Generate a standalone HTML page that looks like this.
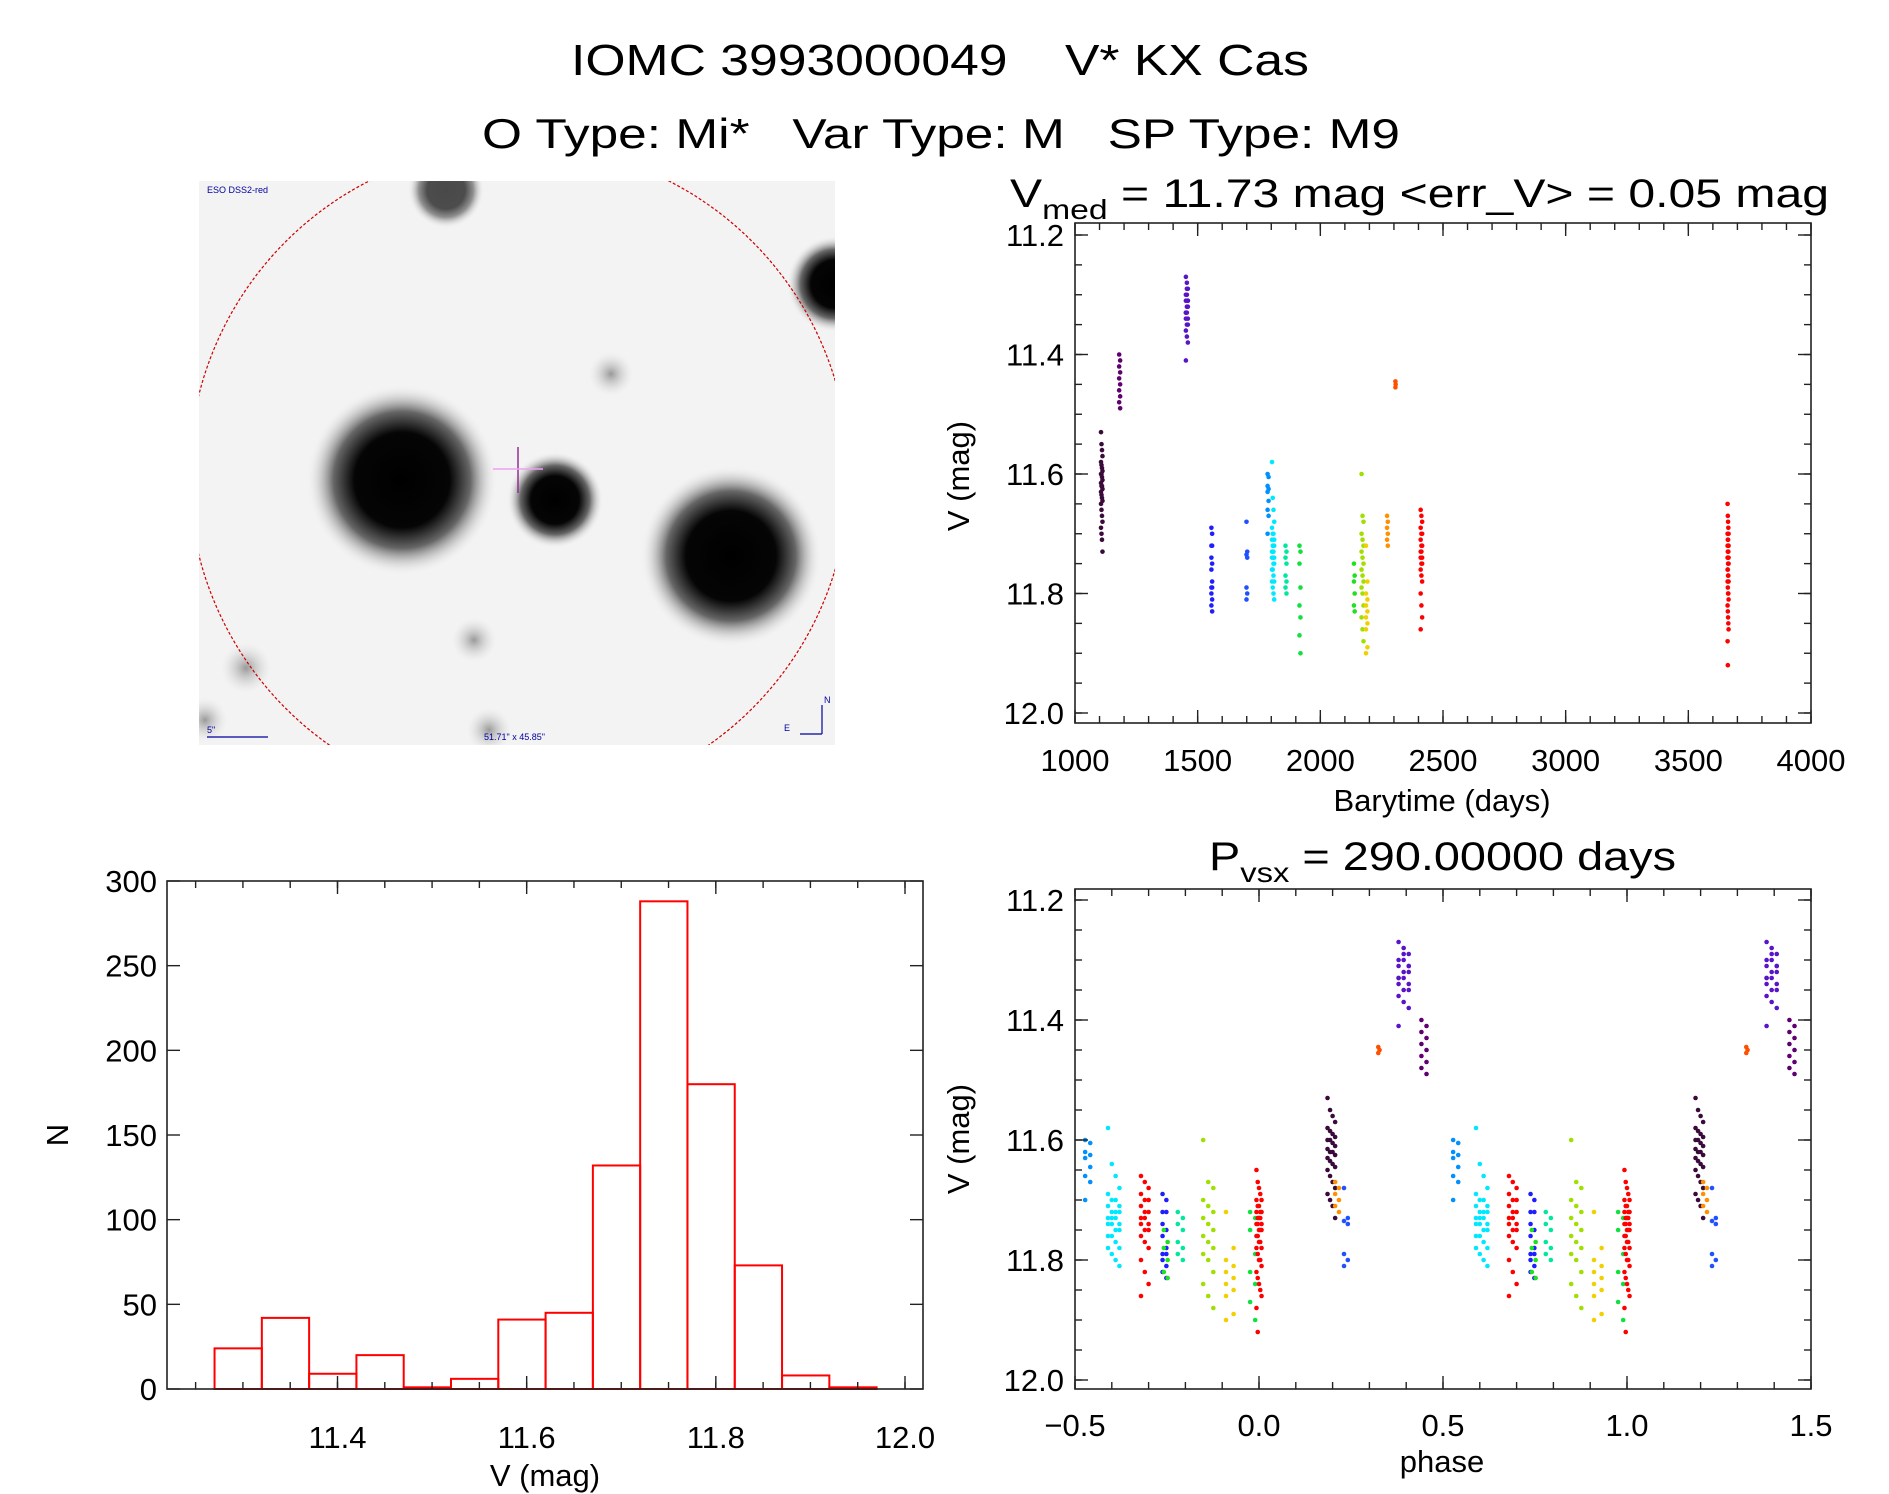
<!DOCTYPE html>
<html><head><meta charset="utf-8">
<style>
html,body{margin:0;padding:0;background:#fff;}
svg{display:block;font-family:"Liberation Sans",sans-serif;}
.pre{white-space:pre;}
</style></head>
<body>
<svg id="root" width="1889" height="1494" viewBox="0 0 1889 1494" xmlns="http://www.w3.org/2000/svg">
<defs>
<radialGradient id="blob" cx="50%" cy="50%" r="50%">
<stop offset="0" stop-color="#000"/><stop offset="0.5" stop-color="#050505"/><stop offset="0.72" stop-color="#666"/><stop offset="1" stop-color="#eee" stop-opacity="0"/>
</radialGradient>
<radialGradient id="faint" cx="50%" cy="50%" r="50%">
<stop offset="0" stop-color="#999"/><stop offset="1" stop-color="#ddd" stop-opacity="0"/>
</radialGradient>
<clipPath id="imgclip"><rect x="199" y="181" width="636" height="564"/></clipPath>
</defs>
<text class="pre" x="940" y="75" text-anchor="middle" font-size="44" textLength="738" lengthAdjust="spacingAndGlyphs">IOMC 3993000049    V* KX Cas</text>
<text class="pre" x="941" y="148" text-anchor="middle" font-size="42" textLength="918" lengthAdjust="spacingAndGlyphs">O Type: Mi*   Var Type: M   SP Type: M9</text>

<g clip-path="url(#imgclip)">
<rect x="199" y="181" width="636" height="564" fill="#f3f3f3"/>
<circle cx="402" cy="480" r="95" fill="url(#blob)"/>
<circle cx="555" cy="500" r="48" fill="url(#blob)"/>
<circle cx="731" cy="556" r="90" fill="url(#blob)"/>
<circle cx="446" cy="190" r="38" fill="url(#blob)" opacity="0.7"/>
<circle cx="835" cy="284" r="48" fill="url(#blob)"/>
<circle cx="611" cy="374" r="22" fill="url(#faint)"/>
<circle cx="474" cy="640" r="22" fill="url(#faint)"/>
<circle cx="246" cy="668" r="25" fill="url(#faint)"/>
<circle cx="489" cy="730" r="22" fill="url(#faint)"/>
<circle cx="205" cy="720" r="22" fill="url(#faint)"/>
<circle cx="519" cy="475" r="330" fill="none" stroke="#c00" stroke-width="1.2" stroke-dasharray="3,2"/>
<line x1="518" y1="447" x2="518" y2="493" stroke="#903090" stroke-width="1.5"/>
<line x1="493" y1="469" x2="543" y2="469" stroke="#f0a0f0" stroke-width="1.5"/>
<text x="207" y="193" font-size="9" fill="#0000a0">ESO DSS2-red</text>
<text x="207" y="733" font-size="9" fill="#0000a0">5"</text>
<line x1="207" y1="737" x2="268" y2="737" stroke="#0000a0" stroke-width="1.2"/>
<text x="484" y="740" font-size="9" fill="#0000a0">51.71" x 45.85"</text>
<line x1="822" y1="734" x2="822" y2="705" stroke="#0000a0" stroke-width="1.2"/>
<line x1="800" y1="734" x2="822" y2="734" stroke="#0000a0" stroke-width="1.2"/>
<text x="824" y="703" font-size="9" fill="#0000a0">N</text>
<text x="784" y="731" font-size="9" fill="#0000a0">E</text>
</g>

<g id="lc"></g>
<g id="ph"></g>
<g id="hist"></g>
</svg>
<script>
// ---------- data ----------
const period = 290.0;
const epoch = 3662;
const groupColors = ["#3a0a3a","#600070","#5a14c8","#1e1eff","#2050ff","#0090ff","#00e8ff","#00e8a0","#10e040","#20e020","#a0e000","#f0d000","#ff9000","#ff5000","#ff0000","#ff0000"];
const groupTimes = [
 [1106,1108,1110,1112],
 [1180,1184],
 [1452,1456,1460],
 [1556,1559],
 [1699,1702],
 [1785,1789],
 [1803,1806,1809,1812],
 [1858,1862],
 [1915,1919],
 [2137,2140],
 [2168,2172,2176],
 [2186,2192],
 [2272,2275],
 [2306,2307],
 [2409,2412,2415],
 [3660,3661,3662,3663,3664]
];
const groupMags = [
 [11.53,11.55,11.56,11.57,11.58,11.585,11.59,11.595,11.60,11.60,11.605,11.61,11.615,11.62,11.62,11.625,11.63,11.635,11.64,11.645,11.65,11.66,11.67,11.68,11.69,11.70,11.71,11.73],
 [11.40,11.41,11.42,11.43,11.44,11.45,11.46,11.47,11.48,11.49],
 [11.27,11.28,11.29,11.30,11.30,11.31,11.31,11.32,11.32,11.33,11.33,11.34,11.34,11.35,11.35,11.36,11.37,11.38,11.41,11.29,11.31,11.33],
 [11.69,11.70,11.72,11.72,11.74,11.75,11.76,11.78,11.79,11.79,11.80,11.81,11.82,11.83],
 [11.68,11.73,11.735,11.74,11.79,11.80,11.81],
 [11.60,11.605,11.62,11.625,11.63,11.645,11.66,11.67,11.70],
 [11.58,11.64,11.66,11.68,11.69,11.70,11.70,11.71,11.71,11.72,11.72,11.72,11.73,11.73,11.73,11.74,11.74,11.74,11.75,11.75,11.76,11.76,11.77,11.78,11.78,11.79,11.80,11.81],
 [11.72,11.73,11.74,11.75,11.77,11.78,11.79,11.80],
 [11.72,11.73,11.75,11.79,11.82,11.84,11.87,11.90],
 [11.75,11.77,11.78,11.80,11.82,11.83],
 [11.60,11.67,11.68,11.70,11.71,11.72,11.73,11.74,11.75,11.76,11.77,11.78,11.79,11.80,11.82,11.84,11.86,11.88],
 [11.72,11.78,11.80,11.81,11.82,11.83,11.84,11.85,11.86,11.89,11.90],
 [11.67,11.68,11.69,11.70,11.71,11.72],
 [11.445,11.45,11.455],
 [11.66,11.67,11.68,11.69,11.70,11.70,11.71,11.72,11.72,11.73,11.73,11.74,11.74,11.75,11.75,11.76,11.77,11.78,11.80,11.82,11.84,11.86],
 [11.65,11.67,11.68,11.69,11.70,11.70,11.71,11.71,11.72,11.72,11.72,11.73,11.73,11.73,11.74,11.74,11.74,11.75,11.75,11.75,11.76,11.76,11.77,11.77,11.78,11.78,11.79,11.80,11.80,11.81,11.82,11.83,11.84,11.85,11.86,11.88,11.92]
];
const timeTicks = [1000,1500,2000,2500,3000,3500,4000];
const magTicks = [11.2,11.4,11.6,11.8,12.0];
const phaseTicks = [-0.5,0.0,0.5,1.0,1.5];
const phaseTickLabels = ["\u22120.5","0.0","0.5","1.0","1.5"];
const histBinStart = [11.27,11.32,11.37,11.42,11.47,11.52,11.57,11.62,11.67,11.72,11.77,11.82,11.87,11.92];
const histCounts = [24,42,9,20,1,6,41,45,132,288,180,73,8,1];
const binWidth = 0.05;
const histXTicks = [11.4,11.6,11.8,12.0];
const histYTicks = [0,50,100,150,200,250,300];

// ---------- helpers ----------
const NS="http://www.w3.org/2000/svg";
function mk(tag, parent, attrs, txt){
  const e=document.createElementNS(NS,tag);
  for(const k in attrs) e.setAttribute(k,attrs[k]);
  if(txt!==undefined) e.textContent=txt;
  parent.appendChild(e); return e;
}
function lin(d0,d1,p0,p1){return v=>p0+(v-d0)/(d1-d0)*(p1-p0);}

function frame(g,L,T,R,B){
  mk('rect',g,{x:L,y:T,width:R-L,height:B-T,fill:'none',stroke:'#222','stroke-width':1.6});
}
function xTicks(g,sx,vals,T,B,len){
  vals.forEach(v=>{const x=sx(v);
    mk('line',g,{x1:x,y1:B,x2:x,y2:B-len,stroke:'#222','stroke-width':1.4});
    mk('line',g,{x1:x,y1:T,x2:x,y2:T+len,stroke:'#222','stroke-width':1.4});});
}
function yTicks(g,sy,vals,L,R,len){
  vals.forEach(v=>{const y=sy(v);
    mk('line',g,{x1:L,y1:y,x2:L+len,y2:y,stroke:'#222','stroke-width':1.4});
    mk('line',g,{x1:R,y1:y,x2:R-len,y2:y,stroke:'#222','stroke-width':1.4});});
}
function range(a,b,s){const o=[];for(let v=a;v<=b+1e-9;v+=s)o.push(+v.toFixed(4));return o;}

// ---------- light curve ----------
(function(){
  const g=document.getElementById('lc');
  const L=1075,R=1811,T=223,B=723;
  const sx=lin(1000,4000,L,R), sy=lin(11.2,12.0,235,713);
  const pts=mk('g',g,{});
  
  
  groupMags.forEach((mags,gi)=>{
    const ts=groupTimes[gi];
    mags.forEach((m,i)=>{
      const c=mk('circle',pts,{cx:sx(ts[i%ts.length]),cy:sy(m),r:2.3,fill:groupColors[gi]});
      
      
    });
  });
  frame(g,L,T,R,B);
  xTicks(g,sx,range(1000,4000,100),T,B,7);
  xTicks(g,sx,timeTicks,T,B,13);
  yTicks(g,sy,range(11.2,12.0,0.05).filter(v=>sy(v)>T),L,R,7);
  yTicks(g,sy,magTicks,L,R,13);
  timeTicks.forEach(v=>{const t=mk('text',g,{x:sx(v),y:771,'text-anchor':'middle','font-size':31},String(v));
    });
  magTicks.forEach(v=>{const t=mk('text',g,{x:1064,y:sy(v)+11,'text-anchor':'end','font-size':31},v.toFixed(1));
    });
  const xl=mk('text',g,{x:1442,y:811,'text-anchor':'middle','font-size':31},'Barytime (days)');
  
  const yl=mk('text',g,{x:0,y:0,'text-anchor':'middle','font-size':31,transform:'translate(969,476) rotate(-90)'},'V (mag)');
  
  const tt=mk('text',g,{x:1010,y:207,'font-size':40,textLength:819,lengthAdjust:'spacingAndGlyphs'});
  
  mk('tspan',tt,{},'V');mk('tspan',tt,{dy:12,'font-size':28},'med');mk('tspan',tt,{dy:-12},' = 11.73 mag <err_V> = 0.05 mag');
})();

// ---------- phase ----------
(function(){
  const g=document.getElementById('ph');
  const L=1075,R=1811,T=889,B=1389;
  const sx=lin(-0.5,1.5,L,R), sy=lin(11.2,12.0,900,1380);
  const pts=mk('g',g,{});
  
  
  groupMags.forEach((mags,gi)=>{
    const ts=groupTimes[gi];
    mags.forEach((m,i)=>{
      let ph=((ts[i%ts.length]-epoch)/period)%1; if(ph<0) ph+=1;
      [ph-1,ph,ph+1].forEach(p=>{
        if(p<-0.5||p>1.5) return;
        const c=mk('circle',pts,{cx:sx(p),cy:sy(m),r:2.3,fill:groupColors[gi]});
        
        
      });
    });
  });
  frame(g,L,T,R,B);
  xTicks(g,sx,range(-0.5,1.5,0.1),T,B,7);
  xTicks(g,sx,phaseTicks,T,B,13);
  yTicks(g,sy,range(11.2,12.0,0.05).filter(v=>sy(v)>T),L,R,7);
  yTicks(g,sy,magTicks,L,R,13);
  phaseTicks.forEach((v,i)=>{const t=mk('text',g,{x:sx(v),y:1436,'text-anchor':'middle','font-size':31},phaseTickLabels[i]);
    });
  magTicks.forEach(v=>{const t=mk('text',g,{x:1064,y:sy(v)+11,'text-anchor':'end','font-size':31},v.toFixed(1));
    });
  const xl=mk('text',g,{x:1442,y:1472,'text-anchor':'middle','font-size':31},'phase');
  
  const yl=mk('text',g,{x:0,y:0,'text-anchor':'middle','font-size':31,transform:'translate(969,1139) rotate(-90)'},'V (mag)');
  
  const tt=mk('text',g,{x:1209,y:870,'font-size':40,textLength:467,lengthAdjust:'spacingAndGlyphs'});
  
  mk('tspan',tt,{},'P');mk('tspan',tt,{dy:12,'font-size':28},'vsx');mk('tspan',tt,{dy:-12},' = 290.00000 days');
})();

// ---------- histogram ----------
(function(){
  const g=document.getElementById('hist');
  const L=167,R=923,T=881,B=1389;
  const sx=lin(11.4,12.0,337.5,905), sy=lin(0,300,B,T);
  histCounts.forEach((c,i)=>{
    const x0=sx(histBinStart[i]), x1=sx(histBinStart[i]+binWidth);
    const r=mk('rect',g,{x:x0,y:sy(c),width:x1-x0,height:B-sy(c),fill:'none',stroke:'#ff0000','stroke-width':2});
    
    
  });
  frame(g,L,T,R,B);
  xTicks(g,sx,range(11.25,12.0,0.05).filter(v=>sx(v)>L),T,B,7);
  xTicks(g,sx,histXTicks,T,B,13);
  yTicks(g,sy,histYTicks,L,R,13);
  histXTicks.forEach(v=>{const t=mk('text',g,{x:sx(v),y:1448,'text-anchor':'middle','font-size':31},v.toFixed(1));
    });
  histYTicks.forEach(v=>{const t=mk('text',g,{x:157,y:sy(v)+11,'text-anchor':'end','font-size':31},String(v));
    });
  const xl=mk('text',g,{x:545,y:1486,'text-anchor':'middle','font-size':31},'V (mag)');
  
  const yl=mk('text',g,{x:0,y:0,'text-anchor':'middle','font-size':31,transform:'translate(68,1135) rotate(-90)'},'N');
  
})();
</script>
</body></html>
